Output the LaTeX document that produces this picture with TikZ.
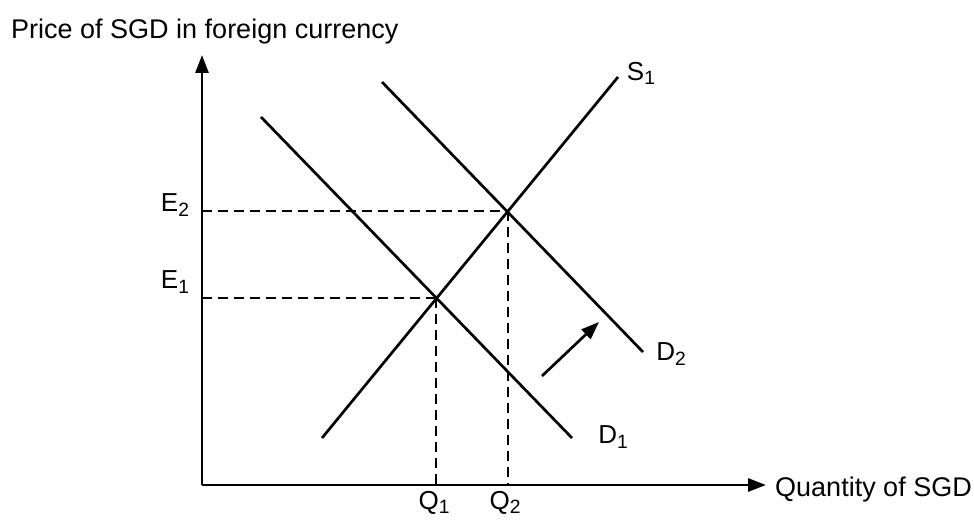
\documentclass[tikz,border=0pt]{standalone}
\usepackage{fontspec}
\setmainfont{Liberation Sans}
\usetikzlibrary{arrows.meta}
\newcommand\lowsub[1]{\raisebox{-0.3ex}{\scalebox{0.74}{#1}}}
\begin{document}
\begin{tikzpicture}[x=1pt,y=-1pt,
  curve/.style={line width=2.7pt},
  axis/.style={line width=2.9pt,-{Triangle[length=18pt,width=13pt]}},
  guide/.style={line width=2.4pt,dash pattern=on 10pt off 6pt},
  lbl/.style={font=\fontsize{26}{30}\selectfont,inner sep=0pt},
  biglbl/.style={font=\fontsize{27}{31}\selectfont,inner sep=0pt}]
\useasboundingbox (0,0) rectangle (974,521);
\fill[white] (0,0) rectangle (974,521);
% coordinates
\coordinate (O) at (202,485);
\coordinate (ytip) at (202,55);
\coordinate (xtip) at (766,485);
\coordinate (S1a) at (322,438);
\coordinate (S1b) at (618,77);
\coordinate (D1a) at (261,117);
\coordinate (D1b) at (572,438);
\coordinate (D2a) at (382,82);
\coordinate (D2b) at (643,352);
\coordinate (E1) at (436,298);
\coordinate (E2) at (508,211);
\coordinate (E1y) at (202,298);
\coordinate (E2y) at (202,211);
\coordinate (Q1x) at (436,485);
\coordinate (Q2x) at (508,485);
\coordinate (sh1) at (542,376);
\coordinate (sh2) at (599,322);
% axes
\draw[axis] (O) -- (ytip);
\draw[axis] (O) -- (xtip);
% curves
\draw[curve] (S1a) -- (S1b);
\draw[curve] (D1a) -- (D1b);
\draw[curve] (D2a) -- (D2b);
% guides
\draw[guide] (E2y) -- (E2);
\draw[guide] (E2) -- (Q2x);
\draw[guide] (E1y) -- (E1);
\draw[guide] (E1) -- (Q1x);
% shift arrow
\draw[curve,-{Triangle[length=18pt,width=13pt]}] (sh1) -- (sh2);
% labels
\node[biglbl,anchor=west] (title) at (11,32) {Price of SGD in foreign currency};
\node[biglbl,anchor=west] (xlab) at (775,490) {Quantity of SGD};
\node[lbl] (lE2) at (175,205) {E\lowsub{2}};
\node[lbl] (lE1) at (175,282) {E\lowsub{1}};
\node[lbl] (lQ1) at (434,503) {Q\lowsub{1}};
\node[lbl] (lQ2) at (505,503) {Q\lowsub{2}};
\node[lbl] (lS1) at (641,73) {S\lowsub{1}};
\node[lbl] (lD1) at (613,437) {D\lowsub{1}};
\node[lbl] (lD2) at (671,354) {D\lowsub{2}};
\end{tikzpicture}
\end{document}
